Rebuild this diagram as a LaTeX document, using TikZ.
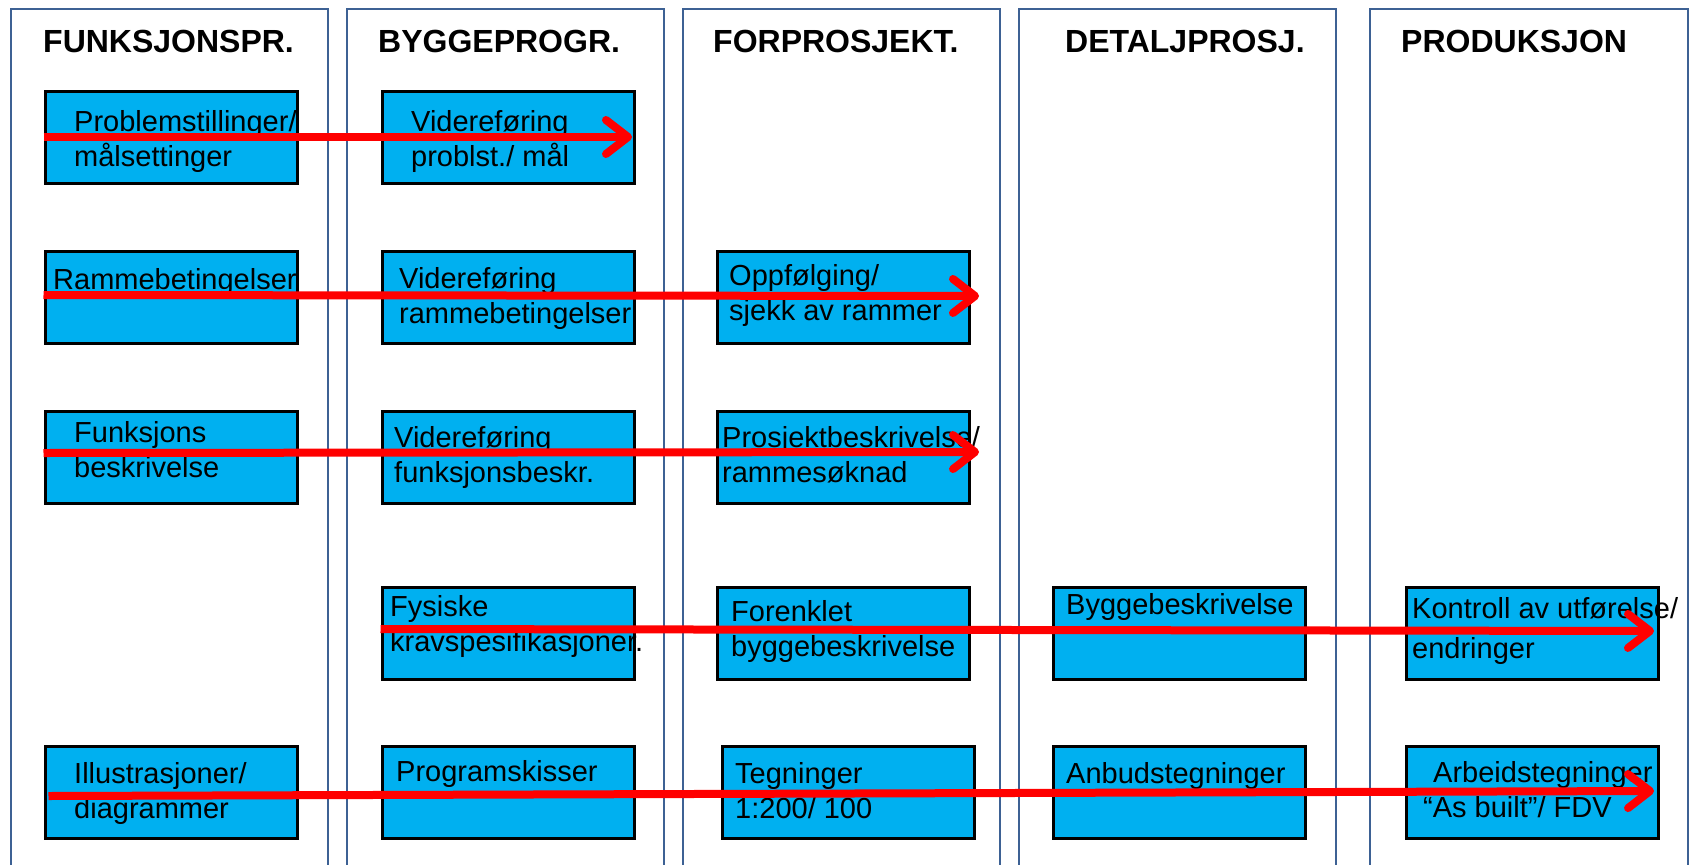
\documentclass[tikz,border=0pt]{standalone}
\usepackage{fontspec}
\setmainfont{Liberation Sans}
\usetikzlibrary{arrows.meta}
\definecolor{boxblue}{HTML}{00B0F0}
\definecolor{colframe}{HTML}{3D6194}
\begin{document}
\begin{tikzpicture}[x=1pt,y=-1pt,
    colline/.style={draw=colframe,line width=2pt},
    fase/.style={anchor=base west,inner sep=0pt,font=\fontsize{32}{38}\selectfont\bfseries},
    boks/.style={draw=black,line width=3pt,fill=boxblue,anchor=north west,
      minimum width=252pt,minimum height=92pt,inner sep=0pt},
    tekst/.style={anchor=base west,inner sep=0pt,align=left,font=\fontsize{29}{35}\selectfont},
    pil/.style={draw=red,line width=8pt,-{Straight Barb[length=22pt,width=34pt,round]}}]
\useasboundingbox (0,0) rectangle (1698,865);
\foreach \xa/\xb in {11/328,347/664,683/1000,1019/1336,1370/1688}
  \draw[colline] (\xa,870) -- (\xa,9) -- (\xb,9) -- (\xb,870);
\node[fase] (funk) at (43,52) {FUNKSJONSPR.};
\node[fase] (bygg) at (378,52) {BYGGEPROGR.};
\node[fase] (forp) at (713,52) {FORPROSJEKT.};
\node[fase] (detp) at (1065,52) {DETALJPROSJ.};
\node[fase] (prod) at (1401,52) {PRODUKSJON};
\node[boks] (problem) at (43.5,89.5) {};
\node[boks] (videreprob) at (380.5,89.5) {};
\node[boks] (ramme) at (43.5,249.5) {};
\node[boks] (videreramme) at (380.5,249.5) {};
\node[boks] (oppfolg) at (715.5,249.5) {};
\node[boks] (funkbeskr) at (43.5,409.5) {};
\node[boks] (viderefunk) at (380.5,409.5) {};
\node[boks] (prosjbeskr) at (715.5,409.5) {};
\node[boks] (fysiske) at (380.5,585.5) {};
\node[boks] (forenklet) at (715.5,585.5) {};
\node[boks] (byggbeskr) at (1051.5,585.5) {};
\node[boks] (kontroll) at (1404.5,585.5) {};
\node[boks] (illustr) at (43.5,744.5) {};
\node[boks] (progskisse) at (380.5,744.5) {};
\node[boks] (tegning) at (720.5,744.5) {};
\node[boks] (anbud) at (1051.5,744.5) {};
\node[boks] (arbeid) at (1404.5,744.5) {};
\node[tekst] (problemtxt) at (74,166) {Problemstillinger/\\målsettinger};
\node[tekst] (videreprobtxt) at (411,166) {Videreføring\\problst./ mål};
\node[tekst] (rammetxt) at (53,289) {Rammebetingelser};
\node[tekst] (vidererammetxt) at (399,323) {Videreføring\\rammebetingelser};
\node[tekst] (oppfolgtxt) at (729,320) {Oppfølging/\\sjekk av rammer};
\node[tekst] (funkbeskrtxt) at (74,477) {Funksjons\\beskrivelse};
\node[tekst] (viderefunktxt) at (394,482) {Videreføring\\funksjonsbeskr.};
\node[tekst] (prosjbeskrtxt) at (722,482) {Prosjektbeskrivelse/\\rammesøknad};
\node[tekst] (fysisketxt) at (390,651) {Fysiske\\kravspesifikasjoner.};
\node[tekst] (forenklettxt) at (731,656) {Forenklet\\byggebeskrivelse};
\node[tekst] (byggbeskrtxt) at (1066,614) {Byggebeskrivelse};
\node[tekst] (kontrolltxt) at (1412,658) {Kontroll av utførelse/\\[5pt]endringer};
\node[tekst] (illustrtxt) at (74,818) {Illustrasjoner/\\diagrammer};
\node[tekst] (progskissetxt) at (396,781) {Programskisser};
\node[tekst] (tegningtxt) at (735,818) {Tegninger\\1:200/ 100};
\node[tekst] (anbudtxt) at (1066,783) {Anbudstegninger};
\node[tekst] (arbeidtxt) at (1423,817) {\hspace{10pt}Arbeidstegninger\\“As built”/ FDV};
\coordinate (pilend1) at (632,137);
\coordinate (pilend2) at (979,296);
\coordinate (pilend3) at (979,452);
\coordinate (pilend4) at (1654,631);
\coordinate (pilend5) at (1654,791);
\draw[pil] (problem.west) -- (pilend1);
\draw[pil] ([yshift=2pt]ramme.west) -- (pilend2);
\draw[pil] ([yshift=4pt]funkbeskr.west) -- (pilend3);
\draw[pil] ([yshift=4pt]fysiske.west) -- (pilend4);
\draw[pil] ([xshift=5pt,yshift=-4pt]illustr.west) -- (pilend5);
\end{tikzpicture}
\end{document}
